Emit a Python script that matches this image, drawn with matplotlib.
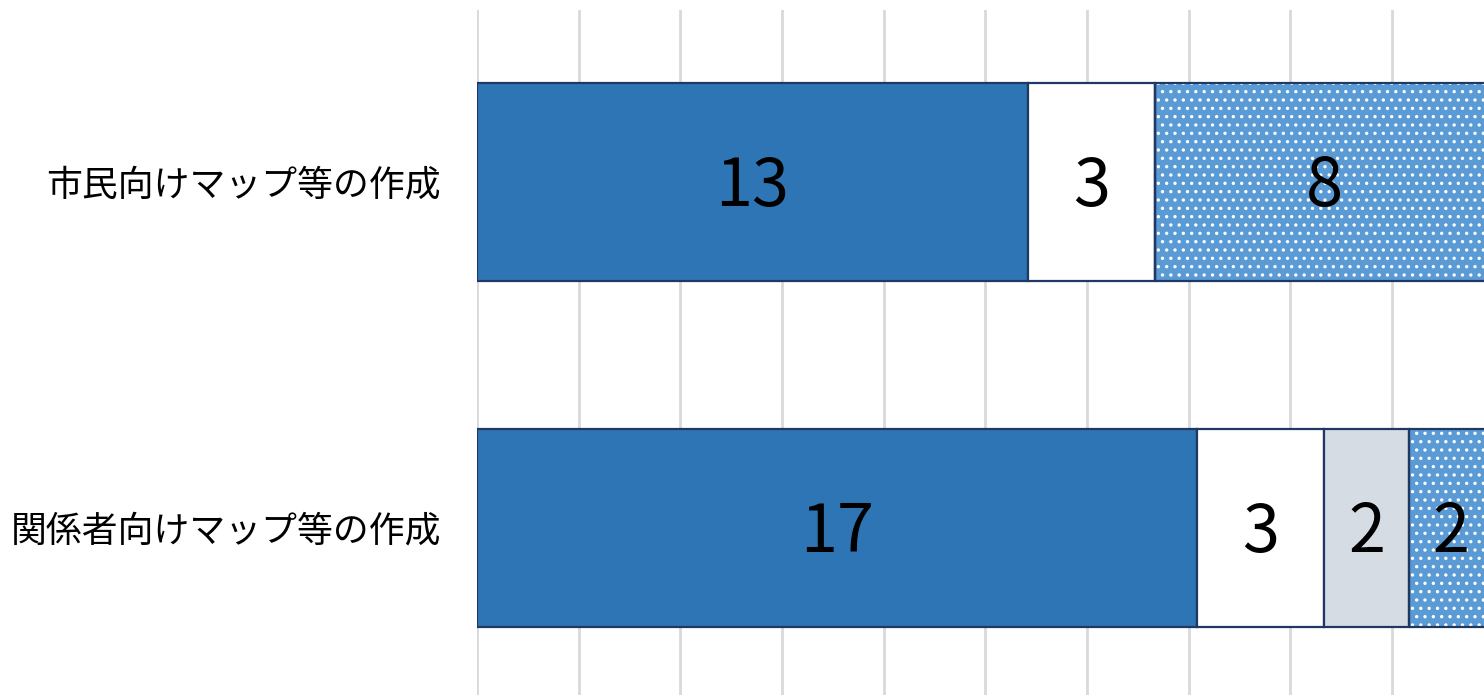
import matplotlib.pyplot as plt
import numpy as np

plt.rcParams['font.family'] = ['Noto Sans CJK JP', 'DejaVu Sans']
plt.rcParams['hatch.color'] = 'white'
plt.rcParams['hatch.linewidth'] = 1.2

# bottom row first so the first category ends up on top
categories = ['関係者向けマップ等の作成', '市民向けマップ等の作成']
seg_solid = [17, 13]
seg_white = [3, 3]
seg_gray = [2, 0]
seg_dotted = [2, 8]

x_max = 23.77
grid_step = 2.4

edge = '#1F3864'
fig = plt.figure(figsize=(14.84, 6.95), dpi=100)
ax = fig.add_axes([477 / 1484, 0, 1 - 477 / 1484, 685 / 695])

y = np.arange(len(categories))
h = 0.572
left = np.zeros(len(categories))
segments = [
    (seg_solid, '#2E75B6', None),
    (seg_white, '#FFFFFF', None),
    (seg_gray, '#D6DCE4', None),
    (seg_dotted, '#5B9BD5', '..'),
]
for vals, color, hatch in segments:
    vals = np.array(vals, dtype=float)
    if hatch:
        ax.barh(y, vals, h, left=left, color=color, hatch=hatch,
                linewidth=0, zorder=2)
        ax.barh(y, vals, h, left=left, fill=False, edgecolor=edge,
                linewidth=1.6, zorder=3)
    else:
        ax.barh(y, vals, h, left=left, color=color, edgecolor=edge,
                linewidth=1.6, zorder=3)
    for yi, v, l in zip(y, vals, left):
        if v > 0:
            ax.annotate(f'{int(v)}', (l + v / 2, yi), xytext=(0, -4),
                        textcoords='offset points', ha='center', va='center',
                        fontsize=48, color='black', zorder=4)
    left += vals

ax.set_xlim(0, x_max)
ax.set_ylim(-0.483, 1.497)
ax.set_xticks(np.arange(0, x_max, grid_step))
ax.xaxis.grid(True, color='#D9D9D9', linewidth=2)
ax.set_axisbelow(True)
ax.tick_params(axis='x', length=0, labelbottom=False)
ax.set_yticks(y)
ax.set_yticklabels(categories, fontsize=25.8)
ax.tick_params(axis='y', length=0, pad=26)
for s in ax.spines.values():
    s.set_visible(False)

fig.savefig('out.png', dpi=100)
